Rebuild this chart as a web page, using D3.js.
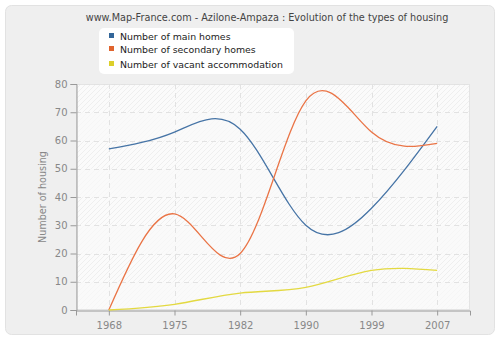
<!DOCTYPE html>
<html>
<head>
<meta charset="utf-8">
<script src="https://cdn.jsdelivr.net/npm/d3@7"></script>
<style>
  html, body { margin: 0; padding: 0; background: #fff; }
  svg { display: block; font-family: "DejaVu Sans", Verdana, sans-serif; }
</style>
</head>
<body>
<svg id="chart" width="500" height="340"></svg>
<script>
// Census years and housing counts for Azilone-Ampaza
const years = ["1968", "1975", "1982", "1990", "1999", "2007"];
const mainHomes = [57, 63, 64, 30, 36, 65];
const secondaryHomes = [0, 34, 20, 74, 63, 59];
const vacantHomes = [0, 2, 6, 8, 14, 14];
const yTicks = [0, 10, 20, 30, 40, 50, 60, 70, 80];

const seriesNames = ["Number of main homes", "Number of secondary homes", "Number of vacant accommodation"];
const seriesColors = ["#4674a6", "#ea7446", "#e3d941"];
const legendColors = ["#336699", "#e0642e", "#dccf2a"];
const seriesValues = [mainHomes, secondaryHomes, vacantHomes];

const svg = d3.select("#chart");
const W = 500, H = 340;
const plot = { left: 76, right: 470, top: 84, bottom: 310 };

// outer frame
svg.append("rect").attr("x", 0).attr("y", 0).attr("width", W).attr("height", H).attr("fill", "#ffffff");
svg.append("rect").attr("x", 5.5).attr("y", 5.5).attr("width", 489).attr("height", 329)
  .attr("rx", 6).attr("fill", "#efefef").attr("stroke", "#e2e2e2");

const defs = svg.append("defs");
const pat = defs.append("pattern").attr("id", "hatch").attr("patternUnits", "userSpaceOnUse")
  .attr("width", 5).attr("height", 5);
pat.append("rect").attr("width", 5).attr("height", 5).attr("fill", "#fbfbfb");
pat.append("path").attr("d", "M-1,6 L6,-1 M-1,1 L1,-1 M4,6 L6,4")
  .attr("stroke", "#ececec").attr("stroke-width", 0.8);

const x = d3.scalePoint().domain(years).range([plot.left, plot.right]).padding(0.5);
const y = d3.scaleLinear().domain([0, 80]).range([plot.bottom, plot.top]);

// plot background: hatched, with lighter alternate bands
svg.append("rect").attr("x", plot.left).attr("y", plot.top)
  .attr("width", plot.right - plot.left).attr("height", plot.bottom - plot.top)
  .attr("fill", "url(#hatch)");
svg.append("g").selectAll("rect")
  .data(yTicks.slice(0, -1).filter((d, i) => i % 2 === 0))
  .join("rect")
  .attr("x", plot.left).attr("width", plot.right - plot.left)
  .attr("y", d => y(d + 10)).attr("height", d => y(d) - y(d + 10))
  .attr("fill", "#fafafa").attr("opacity", 0.6);
svg.append("rect").attr("x", plot.left + 0.5).attr("y", plot.top + 0.5)
  .attr("width", plot.right - plot.left - 1).attr("height", plot.bottom - plot.top - 1)
  .attr("fill", "none").attr("stroke", "#e4e4e4");

// dashed grid
const grid = svg.append("g").attr("stroke", "#e2e2e2").attr("stroke-dasharray", "5,4").attr("stroke-width", 1);
grid.selectAll(".h").data(yTicks.slice(1)).join("line")
  .attr("x1", plot.left).attr("x2", plot.right)
  .attr("y1", d => Math.round(y(d)) + 0.5).attr("y2", d => Math.round(y(d)) + 0.5);
grid.selectAll(".v").data(years).join("line")
  .attr("y1", plot.top).attr("y2", plot.bottom)
  .attr("x1", d => Math.round(x(d)) + 0.5).attr("x2", d => Math.round(x(d)) + 0.5);

// axes
const yAxis = svg.append("g").attr("transform", `translate(${plot.left + 0.5},0)`)
  .call(d3.axisLeft(y).tickValues(yTicks).tickSize(6).tickPadding(3));
const xAxis = svg.append("g").attr("transform", `translate(0,${plot.bottom + 0.5})`)
  .call(d3.axisBottom(x).tickSize(5).tickPadding(6));
[yAxis, xAxis].forEach(a => {
  a.select(".domain").attr("stroke", "#999");
  a.selectAll(".tick line").attr("stroke", "#999");
  a.selectAll(".tick text").attr("fill", "#888").attr("font-size", 10)
    .attr("font-family", "DejaVu Sans, sans-serif");
});

// series lines (natural cubic spline through the census values)
const line = d3.line().x((d, i) => x(years[i])).y(d => y(d)).curve(d3.curveNatural);
svg.append("g").selectAll("path").data(seriesValues).join("path")
  .attr("d", d => line(d))
  .attr("fill", "none")
  .attr("stroke", (d, i) => seriesColors[i])
  .attr("stroke-width", 1.3);

// axis title
svg.append("text").attr("transform", "translate(46,197) rotate(-90)")
  .attr("text-anchor", "middle").attr("font-size", 9.6).attr("fill", "#888")
  .text("Number of housing");

// chart title
svg.append("text").attr("x", 267).attr("y", 21).attr("text-anchor", "middle")
  .attr("font-size", 9.7).attr("fill", "#444")
  .text("www.Map-France.com - Azilone-Ampaza : Evolution of the types of housing");

// legend
const lg = svg.append("g");
lg.append("rect").attr("x", 99).attr("y", 28).attr("width", 195).attr("height", 46)
  .attr("rx", 5).attr("fill", "#ffffff");
const item = lg.selectAll("g").data(seriesNames).join("g")
  .attr("transform", (d, i) => `translate(109,${[36, 49, 64][i]})`);
item.append("rect").attr("x", 0).attr("y", -3).attr("width", 5).attr("height", 5)
  .attr("fill", (d, i) => legendColors[i]);
item.append("text").attr("x", 11).attr("y", 4).attr("font-size", 9.4).attr("fill", "#222")
  .text(d => d);
</script>
</body>
</html>
